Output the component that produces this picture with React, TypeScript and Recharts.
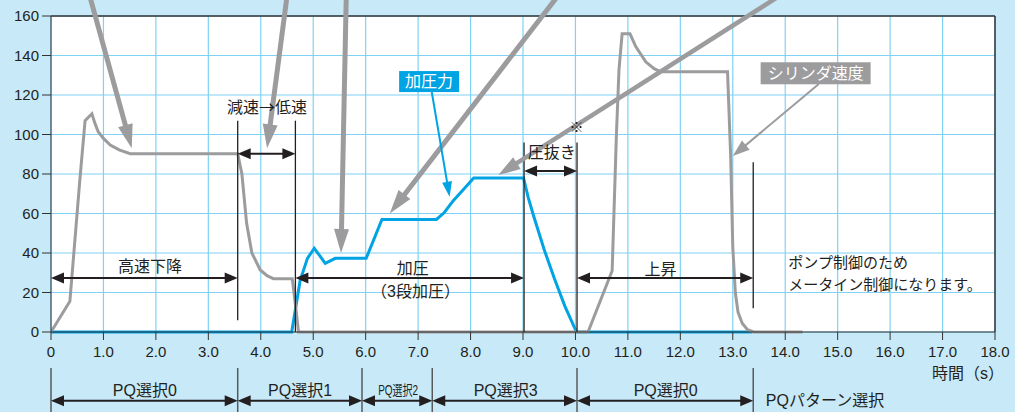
import React from "react";
import { LineChart, Line, XAxis, YAxis, CartesianGrid, ReferenceLine, ReferenceDot } from "recharts";

// cylinder speed (gray)
const speedTime = [0, 0.36, 0.55, 0.65, 0.78, 0.84, 0.9, 1.0, 1.13, 1.3, 1.51, 3.56, 3.64, 3.73, 3.83, 3.99, 4.12, 4.24, 4.6, 4.66, 4.72, 10.24, 10.7, 10.78, 10.83, 10.89, 11.04, 11.15, 11.34, 11.5, 11.62, 12.9, 12.96, 13.0, 13.05, 13.1, 13.18, 13.28, 13.4, 14.33];
const speedValue = [0, 15.5, 77, 107, 110.5, 105.5, 101.4, 98, 94.7, 92.2, 90.3, 90.3, 80, 55, 40, 31.4, 28.5, 27, 27, 14, 0, 0, 31, 99, 132.7, 151, 151, 144.5, 136.8, 133.3, 131.8, 131.8, 89, 43, 19.6, 10, 4.4, 1.2, 0, 0];

// pressure (blue)
const pressureTime = [0, 4.59, 4.75, 4.89, 5.02, 5.23, 5.42, 6.01, 6.31, 7.35, 7.5, 7.67, 7.86, 8.06, 9.01, 9.1, 9.2, 9.4, 9.6, 9.8, 10.02, 13.37];
const pressureValue = [0, 0, 26, 37.3, 42.4, 34.8, 37.3, 37.3, 57, 57, 60.5, 66.5, 72, 78, 78, 68, 59, 42, 27, 13, 0, 0];

const xTicks = [0, 1, 2, 3, 4, 5, 6, 7, 8, 9, 10, 11, 12, 13, 14, 15, 16, 17, 18];
const yTicks = [0, 20, 40, 60, 80, 100, 120, 140, 160];

const speedData = speedTime.map((t, i) => ({ t, v: speedValue[i] }));
const pressureData = pressureTime.map((t, i) => ({ t, v: pressureValue[i] }));

const BG = "#c7e9f8";
const GRID = "#7fd2f3";
const GRAY = "#9c9c9e";
const BLUE = "#00a3e3";
const INK = "#231f20";
const FONT = '"Liberation Sans", Arial, "Noto Sans CJK JP", sans-serif';
const JP = '"Noto Sans CJK JP", sans-serif';

function arrow(color: string, w: number, hl: number, hw: number, both = false) {
  return (p: any) => {
    const { x1, y1, x2, y2 } = p;
    const dx = x2 - x1, dy = y2 - y1;
    const L = Math.hypot(dx, dy) || 1;
    const ux = dx / L, uy = dy / L, nx = -uy, ny = ux;
    const head = (tx: number, ty: number, sx: number, sy: number) =>
      `${tx},${ty} ${tx - sx * hl + (nx * hw) / 2},${ty - sy * hl + (ny * hw) / 2} ${tx - sx * hl - (nx * hw) / 2},${ty - sy * hl - (ny * hw) / 2}`;
    const sx1 = both ? x1 + ux * hl * 0.7 : x1;
    const sy1 = both ? y1 + uy * hl * 0.7 : y1;
    return (
      <g>
        <line x1={sx1} y1={sy1} x2={x2 - ux * hl * 0.7} y2={y2 - uy * hl * 0.7} stroke={color} strokeWidth={w} />
        <polygon points={head(x2, y2, ux, uy)} fill={color} />
        {both && <polygon points={head(x1, y1, -ux, -uy)} fill={color} />}
      </g>
    );
  };
}

function label(text: string, size = 16, anchor: "start" | "middle" | "end" = "middle", fit?: number, family = FONT) {
  return (p: any) => (
    <text
      x={p.cx}
      y={p.cy}
      textAnchor={anchor}
      dominantBaseline="central"
      fontSize={size}
      fontFamily={family}
      fill={INK}
      textLength={fit}
      lengthAdjust={fit ? "spacingAndGlyphs" : undefined}
    >
      {text}
    </text>
  );
}

function boxLabel(text: string, fill: string, w: number, h: number) {
  return (p: any) => (
    <g>
      <rect x={p.cx - w / 2} y={p.cy - h / 2} width={w} height={h} fill={fill} />
      <text x={p.cx} y={p.cy} textAnchor="middle" dominantBaseline="central" fontSize={16} fontFamily={FONT} fill="#fff">
        {text}
      </text>
    </g>
  );
}

const seg = (x1: number, y1: number, x2: number, y2: number) => [
  { x: x1, y: y1 },
  { x: x2, y: y2 },
];

const bigArrow = arrow(GRAY, 5, 24, 15);
const dimArrow = arrow(INK, 2, 13, 11, true);

export default function App() {
  return (
    <div style={{ position: "absolute", left: 0, top: 0, width: 1015, height: 412, background: BG }}>
      <LineChart width={1015} height={412} margin={{ top: 16, right: 20, bottom: 50, left: 0 }}>
        <CartesianGrid stroke={GRID} strokeWidth={1.2} fill="#ffffff" />
        <XAxis
          dataKey="t"
          type="number"
          domain={[0, 18]}
          ticks={xTicks}
          allowDataOverflow
          height={30}
          tickSize={8}
          tickMargin={6}
          stroke="#333"
          tickFormatter={(v: number) => (v === 0 ? "0" : v.toFixed(1))}
          tick={{ fontSize: 15, fill: INK, fontFamily: FONT }}
        />
        <YAxis
          type="number"
          domain={[0, 160]}
          ticks={yTicks}
          width={51}
          tickSize={9}
          tickMargin={3}
          stroke="#333"
          tick={{ fontSize: 15, fill: INK, fontFamily: FONT }}
        />
        <ReferenceLine y={160} stroke="#333" strokeWidth={1.5} />
        <ReferenceLine x={18} stroke="#333" strokeWidth={1.5} />

        <Line data={pressureData} dataKey="v" type="linear" stroke={BLUE} strokeWidth={3} dot={false} isAnimationActive={false} />
        <Line data={speedData} dataKey="v" type="linear" stroke={GRAY} strokeWidth={3} dot={false} isAnimationActive={false} />

        {/* vertical markers */}
        <ReferenceLine segment={seg(3.56, 107, 3.56, 6)} ifOverflow="visible" stroke={INK} strokeWidth={1.3} />
        <ReferenceLine segment={seg(4.66, 107, 4.66, 0)} ifOverflow="visible" stroke={INK} strokeWidth={1.3} />
        <ReferenceLine segment={seg(9.02, 96, 9.02, 0)} ifOverflow="visible" stroke={INK} strokeWidth={1.3} />
        <ReferenceLine segment={seg(10.03, 96, 10.03, 0)} ifOverflow="visible" stroke={INK} strokeWidth={1.3} />
        <ReferenceLine segment={seg(13.39, 86, 13.39, 12)} ifOverflow="visible" stroke={INK} strokeWidth={1.3} />

        {/* dimension arrows */}
        <ReferenceLine segment={seg(0, 27.3, 3.56, 27.3)} ifOverflow="visible" shape={dimArrow} />
        <ReferenceLine segment={seg(3.56, 90.3, 4.66, 90.3)} ifOverflow="visible" shape={dimArrow} />
        <ReferenceLine segment={seg(4.66, 27.3, 9.02, 27.3)} ifOverflow="visible" shape={dimArrow} />
        <ReferenceLine segment={seg(9.02, 81.5, 10.03, 81.5)} ifOverflow="visible" shape={dimArrow} />
        <ReferenceLine segment={seg(10.03, 27.3, 13.39, 27.3)} ifOverflow="visible" shape={dimArrow} />

        {/* PQ row below the axis */}
        {[0, 3.56, 5.93, 7.27, 10.03, 13.39].map((x) => (
          <ReferenceLine key={x} segment={seg(x, -18.2, x, -41)} ifOverflow="visible" stroke="#58595b" strokeWidth={1.5} />
        ))}
        <ReferenceLine segment={seg(0, -34.8, 3.56, -34.8)} ifOverflow="visible" shape={dimArrow} />
        <ReferenceLine segment={seg(3.56, -34.8, 5.93, -34.8)} ifOverflow="visible" shape={dimArrow} />
        <ReferenceLine segment={seg(5.93, -34.8, 7.27, -34.8)} ifOverflow="visible" shape={dimArrow} />
        <ReferenceLine segment={seg(7.27, -34.8, 10.03, -34.8)} ifOverflow="visible" shape={dimArrow} />
        <ReferenceLine segment={seg(10.03, -34.8, 13.39, -34.8)} ifOverflow="visible" shape={dimArrow} />

        {/* big gray pointer arrows */}
        <ReferenceLine segment={seg(0.74, 170, 1.54, 93)} ifOverflow="visible" shape={bigArrow} />
        <ReferenceLine segment={seg(4.5, 170, 4.12, 93)} ifOverflow="visible" shape={bigArrow} />
        <ReferenceLine segment={seg(5.63, 170, 5.53, 40)} ifOverflow="visible" shape={bigArrow} />
        <ReferenceLine segment={seg(9.66, 170, 6.46, 60)} ifOverflow="visible" shape={bigArrow} />
        <ReferenceLine segment={seg(13.88, 170, 8.53, 79.5)} ifOverflow="visible" shape={arrow(GRAY, 4.5, 22, 14)} />

        {/* callouts */}
        <ReferenceLine segment={seg(7.26, 121.5, 7.6, 68.5)} ifOverflow="visible" shape={arrow(BLUE, 2, 15, 10)} />
        <ReferenceDot x={7.21} y={126.8} ifOverflow="visible" shape={boxLabel("加圧力", BLUE, 60, 21)} />
        <ReferenceLine segment={seg(14.64, 125.6, 13.0, 89.1)} ifOverflow="visible" shape={arrow(GRAY, 2, 17, 12)} />
        <ReferenceDot x={14.58} y={131} ifOverflow="visible" shape={boxLabel("シリンダ速度", GRAY, 110, 22)} />

        {/* texts */}
        <ReferenceDot x={1.89} y={33} ifOverflow="visible" shape={label("高速下降")} />
        <ReferenceDot x={4.12} y={114.4} ifOverflow="visible" shape={label("減速→低速", 16, "middle", undefined, JP)} />
        <ReferenceDot x={6.9} y={32.4} ifOverflow="visible" shape={label("加圧")} />
        <ReferenceDot x={6.95} y={20.4} ifOverflow="visible" shape={label("（3段加圧）")} />
        <ReferenceDot x={9.55} y={91} ifOverflow="visible" shape={label("圧抜き")} />
        <ReferenceDot x={10.02} y={103.8} ifOverflow="visible" shape={label("※", 14)} />
        <ReferenceDot x={11.62} y={31.4} ifOverflow="visible" shape={label("上昇")} />
        <ReferenceDot x={14.06} y={35} ifOverflow="visible" shape={label("ポンプ制御のため", 15, "start")} />
        <ReferenceDot x={14.06} y={23.8} ifOverflow="visible" shape={label("メータイン制御になります。", 15, "start")} />
        <ReferenceDot x={18.17} y={-20.8} ifOverflow="visible" shape={label("時間（s）", 16, "end")} />
        <ReferenceDot x={1.79} y={-29.4} ifOverflow="visible" shape={label("PQ選択0")} />
        <ReferenceDot x={4.75} y={-29.4} ifOverflow="visible" shape={label("PQ選択1")} />
        <ReferenceDot x={6.62} y={-29.4} ifOverflow="visible" shape={label("PQ選択2", 14, "middle", 40)} />
        <ReferenceDot x={8.67} y={-29.4} ifOverflow="visible" shape={label("PQ選択3")} />
        <ReferenceDot x={11.72} y={-29.4} ifOverflow="visible" shape={label("PQ選択0")} />
        <ReferenceDot x={13.63} y={-34.8} ifOverflow="visible" shape={label("PQパターン選択", 16, "start")} />
      </LineChart>
    </div>
  );
}
